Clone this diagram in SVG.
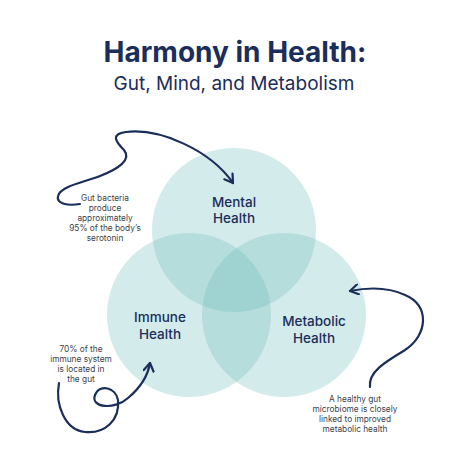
<svg xmlns="http://www.w3.org/2000/svg" width="474" height="474" viewBox="0 0 474 474">
<defs>
<style>
.circ{fill:#6cbcb9;fill-opacity:0.3}
.title{font-family:Inter,"Noto Sans",sans-serif;font-weight:700;fill:#1b2d5a;text-anchor:middle}
.sub{font-family:Inter,"Noto Sans",sans-serif;font-weight:400;fill:#1b2d5a;text-anchor:middle}
.lbl{font-family:Inter,"Noto Sans",sans-serif;font-weight:500;font-size:13.5px;fill:#1b2d5a;text-anchor:middle}
.note{font-family:Inter,"Noto Sans",sans-serif;font-weight:400;font-size:8.3px;fill:#3a3f4a;text-anchor:middle}
.arrow{fill:none;stroke:#1b2d5a;stroke-width:2.2;stroke-linecap:round;stroke-linejoin:round}
</style>
<marker id="head" viewBox="0 0 12 12" refX="10" refY="6" markerWidth="12" markerHeight="12" markerUnits="userSpaceOnUse" orient="auto">
<path d="M2,1 L10,6 L2,11" fill="none" stroke="#1b2d5a" stroke-width="2.2" stroke-linecap="round" stroke-linejoin="round"/>
</marker>
</defs>
<rect width="474" height="474" fill="#ffffff"/>
<g id="title">
<text class="title" x="235" y="62" font-size="28">Harmony in Health:</text>
<text class="sub" x="234" y="90" font-size="19">Gut, Mind, and Metabolism</text>
</g>
<g id="mental">
<circle class="circ" cx="234" cy="230" r="82"/>
<text class="lbl" x="234" y="206.5">Mental</text>
<text class="lbl" x="234" y="223">Health</text>
</g>
<g id="immune">
<circle class="circ" cx="189" cy="315" r="82"/>
<text class="lbl" x="160" y="322">Immune</text>
<text class="lbl" x="160" y="338.5">Health</text>
</g>
<g id="metabolic">
<circle class="circ" cx="284" cy="315" r="82"/>
<text class="lbl" x="314" y="326">Metabolic</text>
<text class="lbl" x="314" y="342.5">Health</text>
</g>
<g id="note-serotonin">
<text class="note" x="105" y="201">Gut bacteria</text>
<text class="note" x="105" y="211">produce</text>
<text class="note" x="105" y="221">approximately</text>
<text class="note" x="105" y="231">95% of the body’s</text>
<text class="note" x="105" y="241">serotonin</text>
</g>
<g id="note-immune">
<text class="note" x="81" y="352">70% of the</text>
<text class="note" x="81" y="362">immune system</text>
<text class="note" x="81" y="372">is located in</text>
<text class="note" x="81" y="382">the gut</text>
</g>
<g id="note-metabolic">
<text class="note" x="355" y="402">A healthy gut</text>
<text class="note" x="355" y="412">microbiome is closely</text>
<text class="note" x="355" y="422">linked to improved</text>
<text class="note" x="355" y="432">metabolic health</text>
</g>
<g id="connectors">
<path class="arrow" marker-end="url(#head)" d="M80,204 C68,206 56,204 58,196 C60,186 85,182 100,176 C118,169 132,160 124,150 C116,142 110,134 126,132 C160,128 210,150 233,183"/>
<path class="arrow" marker-end="url(#head)" d="M59,383 C55,405 65,430 85,432 C105,434 120,420 118,400 C116,388 100,383 95,395 C90,408 115,410 128,398 C140,388 148,375 150,363"/>
<path class="arrow" marker-end="url(#head)" d="M370,387 C368,372 385,362 405,350 C428,335 430,305 405,295 C390,288 370,287 350,291"/>
</g>
</svg>
